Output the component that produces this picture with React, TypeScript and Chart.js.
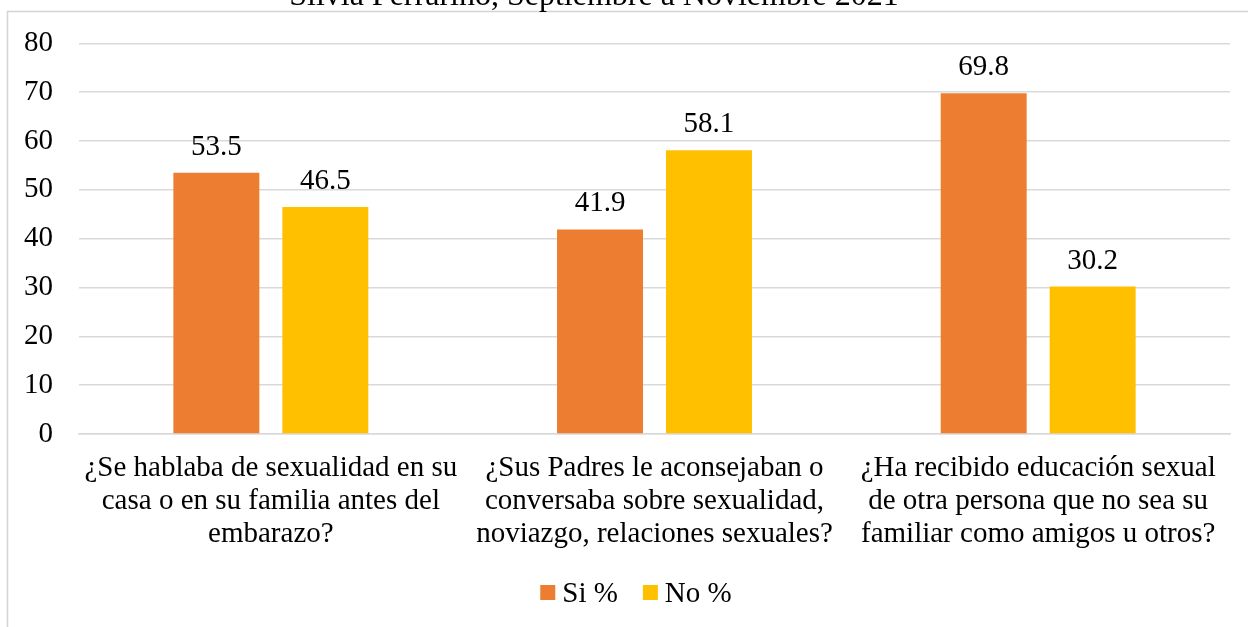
import React, { useEffect, useRef } from "react";
import { Chart, registerables } from "chart.js";

Chart.register(...registerables);

const titleText = "Silvia Ferrarino, Septiembre a Noviembre 2021";
const categories: string[][] = [
  ["¿Se hablaba de sexualidad en su", "casa o en su familia antes del", "embarazo?"],
  ["¿Sus Padres le aconsejaban o", "conversaba sobre sexualidad,", "noviazgo, relaciones sexuales?"],
  ["¿Ha recibido educación sexual", "de otra persona que no sea su", "familiar como amigos u otros?"],
];
const siValues = [53.5, 41.9, 69.8];
const noValues = [46.5, 58.1, 30.2];
const seriesNames = ["Si %", "No %"];
const seriesColors = ["#ED7D31", "#FFC000"];
const yTicks = [0, 10, 20, 30, 40, 50, 60, 70, 80];

const FONT = "'Liberation Serif', 'Times New Roman', serif";
const FS = 29;

const decorPlugin = {
  id: "decor",
  beforeDraw(chart: any) {
    const ctx = chart.ctx;
    ctx.save();
    ctx.strokeStyle = "#d4d4d4";
    ctx.lineWidth = 1.5;
    ctx.beginPath();
    ctx.moveTo(7.5, 700);
    ctx.lineTo(7.5, 11.5);
    ctx.lineTo(1300, 11.5);
    ctx.stroke();
    ctx.fillStyle = "#000";
    ctx.font = `32px ${FONT}`;
    ctx.textAlign = "center";
    ctx.textBaseline = "alphabetic";
    ctx.fillText(titleText, 594, 5);
    ctx.restore();
  },
  afterDatasetsDraw(chart: any) {
    const ctx = chart.ctx;
    ctx.save();
    ctx.fillStyle = "#000";
    ctx.font = `${FS}px ${FONT}`;
    ctx.textAlign = "center";
    ctx.textBaseline = "alphabetic";
    chart.data.datasets.forEach((ds: any, di: number) => {
      const meta = chart.getDatasetMeta(di);
      meta.data.forEach((bar: any, i: number) => {
        ctx.fillText(ds.data[i].toFixed(1), bar.x, bar.y - 18);
      });
    });
    // legend
    const box = 15;
    const gap = 7;
    const itemGap = 25;
    const widths = chart.data.datasets.map((ds: any) => ctx.measureText(ds.label).width);
    const total = widths.reduce((a: number, w: number) => a + box + gap + w, 0) + itemGap * (widths.length - 1);
    let x = 636 - total / 2;
    const baseY = 602;
    chart.data.datasets.forEach((ds: any, di: number) => {
      ctx.fillStyle = ds.backgroundColor;
      ctx.fillRect(x, baseY - 17, box, box);
      ctx.fillStyle = "#000";
      ctx.textAlign = "left";
      ctx.fillText(ds.label, x + box + gap, baseY);
      x += box + gap + widths[di] + itemGap;
    });
    ctx.restore();
  },
};

export default function App() {
  const ref = useRef<HTMLCanvasElement | null>(null);
  useEffect(() => {
    if (!ref.current) return;
    const chart = new Chart(ref.current, {
      type: "bar",
      data: {
        labels: categories,
        datasets: [
          { label: seriesNames[0], data: siValues, backgroundColor: seriesColors[0] },
          { label: seriesNames[1], data: noValues, backgroundColor: seriesColors[1] },
        ],
      },
      options: {
        responsive: false,
        animation: false,
        devicePixelRatio: 1,
        categoryPercentage: 0.568,
        barPercentage: 0.789,
        layout: { padding: { top: 41, right: 18, left: 0, bottom: 0 } },
        plugins: {
          legend: { display: false },
          title: { display: false },
          tooltip: { enabled: false },
        },
        scales: {
          x: {
            grid: { display: false, drawTicks: false },
            border: { display: true, color: "#d9d9d9", width: 1.5 },
            ticks: {
              color: "#000",
              font: { family: FONT, size: FS, lineHeight: 1.14 },
              padding: 18,
              maxRotation: 0,
              autoSkip: false,
            },
            afterFit(scale: any) {
              scale.height = 627 - 434;
            },
          },
          y: {
            min: 0,
            max: 80,
            afterBuildTicks(scale: any) {
              scale.ticks = yTicks.map((v) => ({ value: v }));
            },
            grid: { color: "#d9d9d9", lineWidth: 1.5, drawTicks: false },
            border: { display: false },
            ticks: {
              color: "#000",
              font: { family: FONT, size: FS },
              padding: 26,
            },
            afterFit(scale: any) {
              scale.width = 79;
            },
          },
        },
      },
      plugins: [decorPlugin],
    });
    return () => chart.destroy();
  }, []);
  return (
    <div style={{ position: "absolute", left: 0, top: 0, width: 1248, height: 627, background: "#fff" }}>
      <canvas ref={ref} width={1248} height={627} style={{ width: 1248, height: 627 }} />
    </div>
  );
}
